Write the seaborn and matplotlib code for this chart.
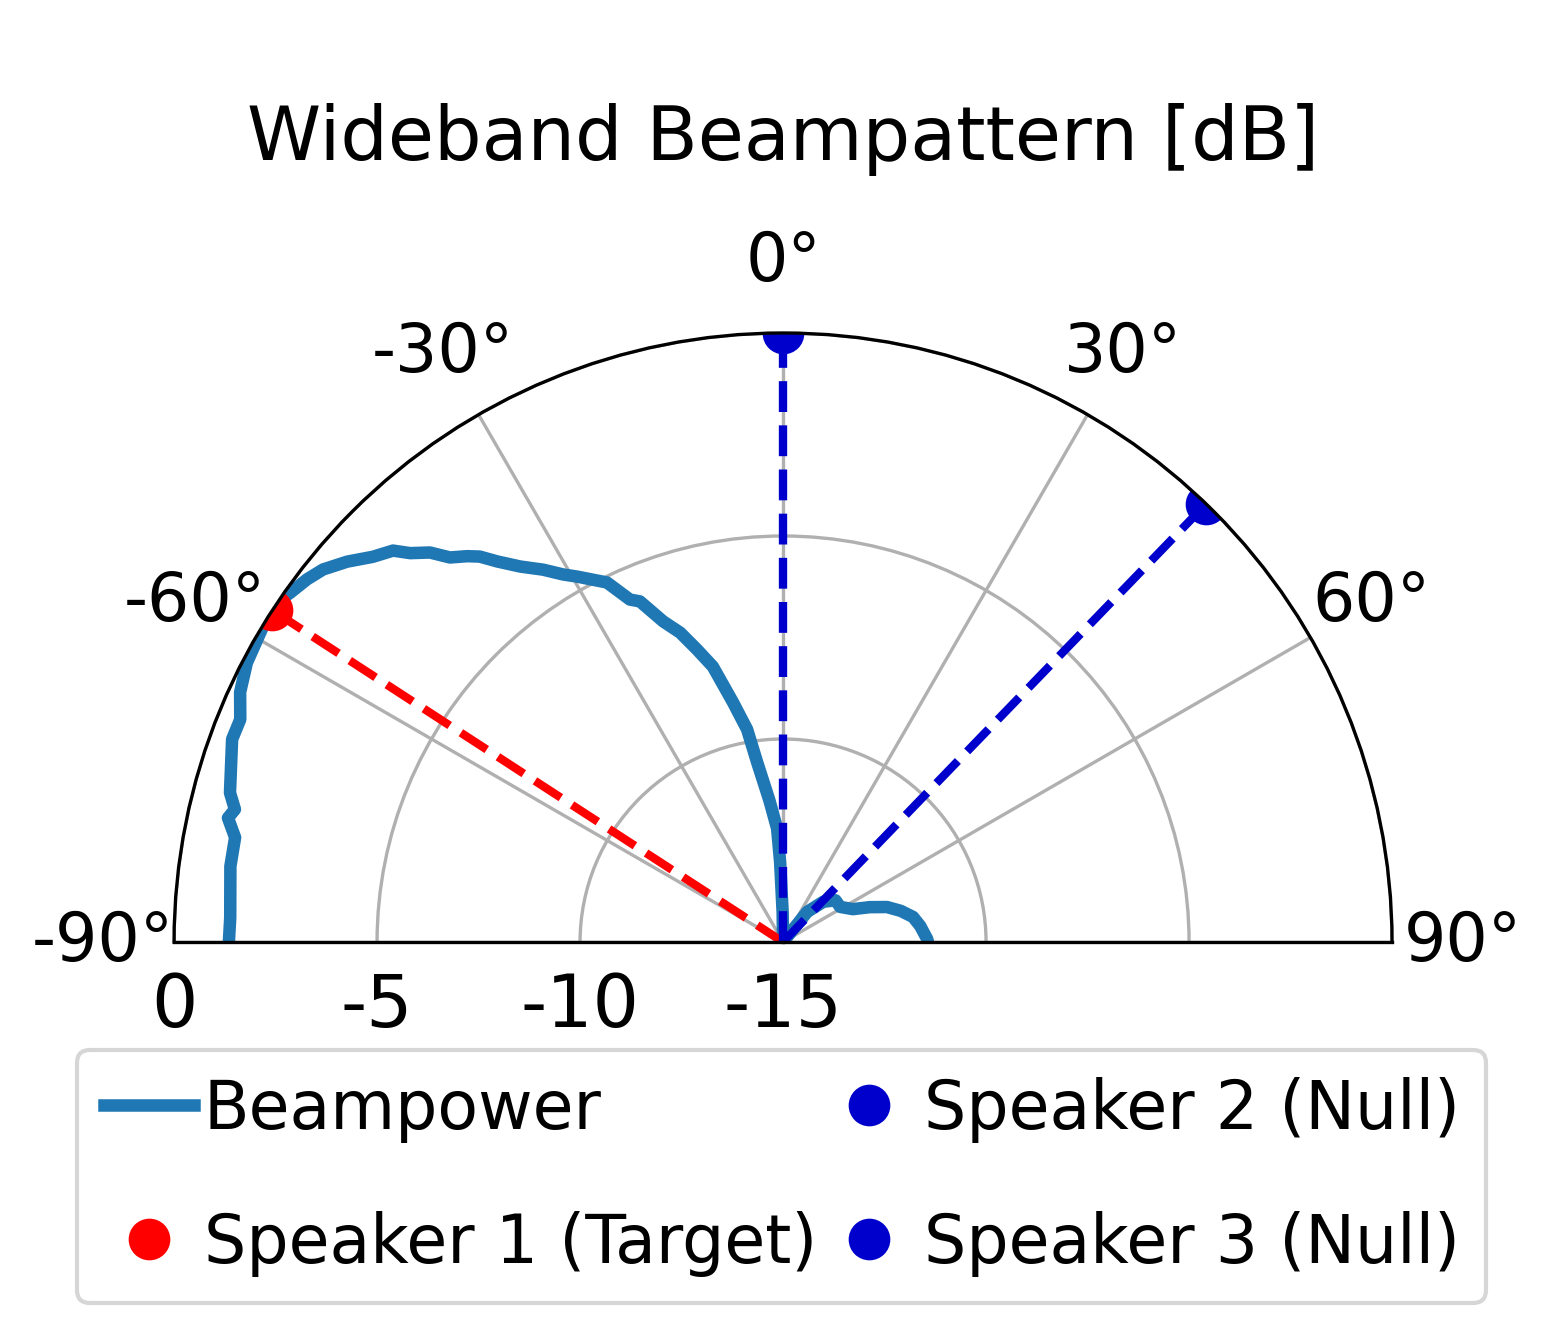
import numpy as np
import pandas as pd
import matplotlib
matplotlib.use('Agg')
import matplotlib.pyplot as plt
import seaborn as sns

# Beampower curve (angle in degrees, power in dB)
angle_deg = [-90, -87.5, -82.2, -79.2, -77.4, -76.4, -74.9, -69.8, -67.7, -65.3,
             -62.5, -58.8, -55.9, -54.7, -52.7, -51.0, -48.9, -46.8, -44.9, -43.8,
             -42.2, -40.9, -39.3, -38.2, -36.9, -35.0, -32.8, -30.9, -29.4, -26.1,
             -24.1, -22.8, -20.5, -18.4, -16.4, -14.3, -11.8, -9.6, -8.2, -5.5,
             -3.0, -2.1, -0.8, 0, 36, 38.7, 45, 51.5, 58.4, 64.8, 68.1,
             71.4, 75.2, 79.1, 83.3, 88.8, 90]
power_db = [-1.35, -1.37, -1.26, -1.26, -0.99, -1.11, -0.89, -0.54, -0.55, -0.28,
            -0.11, -0.02, 0.0, -0.12, -0.26, -0.42, -0.75, -1.14, -1.39, -1.73,
            -2.05, -2.47, -2.72, -2.92, -3.28, -3.71, -4.09, -4.45, -4.67, -5.14,
            -5.76, -5.90, -6.57, -6.97, -7.49, -8.00, -8.97, -9.69, -10.53, -11.5,
            -12.2, -13.03, -14.27, -15, -15, -14.05, -13.6, -13.35, -13.35, -13.1, -12.7,
            -12.3, -12.0, -11.74, -11.6, -11.45, -11.43]

# speaker directions
speaker_names = ['Speaker 1 (Target)', 'Speaker 2 (Null)', 'Speaker 3 (Null)']
speaker_deg = [-57, 0, 44]
speaker_colors = ['#ff0000', '#0000cc', '#0000cc']

r_min, r_max = -15, 0
r_ticks = [0, -5, -10, -15]
theta_ticks = [-90, -60, -30, 0, 30, 60, 90]
theta_labels = ['-90°', '-60°', '-30°', '0°', '30°', '60°', '90°']

plt.rcParams['axes.unicode_minus'] = False
plt.rcParams['font.family'] = ['DejaVu Sans']

df = pd.DataFrame({'theta': np.deg2rad(angle_deg), 'power': power_db})

fig = plt.figure(figsize=(5.18, 4.44), dpi=300)
# square box; the half disc is fitted inside it
ax = fig.add_axes([0.112, 0.0642, 0.7838, 0.9144], projection='polar')
ax.set_theta_zero_location('N')
ax.set_theta_direction(-1)
ax.set_thetamin(-90)
ax.set_thetamax(90)

sns.lineplot(data=df, x='theta', y='power', ax=ax, color='#1f77b4',
             lw=3, sort=False, label='Beampower')

for name, deg, col in zip(speaker_names, speaker_deg, speaker_colors):
    th = np.deg2rad(deg)
    ax.plot([th, th], [r_min, r_max], '--', color=col, lw=2)
    ax.plot([th], [r_max], 'o', color=col, ms=9, label=name)

ax.set_rlim(r_min, r_max)
ax.set_rticks(r_ticks)
ax.set_yticklabels([str(t) for t in r_ticks])
ax.set_thetagrids(theta_ticks, theta_labels)
ax.tick_params(axis='x', labelsize=16, pad=6.5)
ax.tick_params(axis='y', labelsize=17.5)
ax.set_xlabel('')
ax.set_ylabel('')
ax.grid(True, color='#b0b0b0', lw=0.8)

fig.text(0.504, 1 - 140 / 1332, 'Wideband Beampattern [dB]', fontsize=18,
         ha='center', va='center')

handles, labels = ax.get_legend_handles_labels()
ax.get_legend().remove()
fig.legend(handles, labels, loc='upper center', bbox_to_anchor=(0.503, 0.2117),
           borderaxespad=0, ncol=2, fontsize=16, handlelength=1.35,
           handletextpad=0.15, columnspacing=0.1, labelspacing=1.02)

fig.savefig('out.png', dpi=300)
